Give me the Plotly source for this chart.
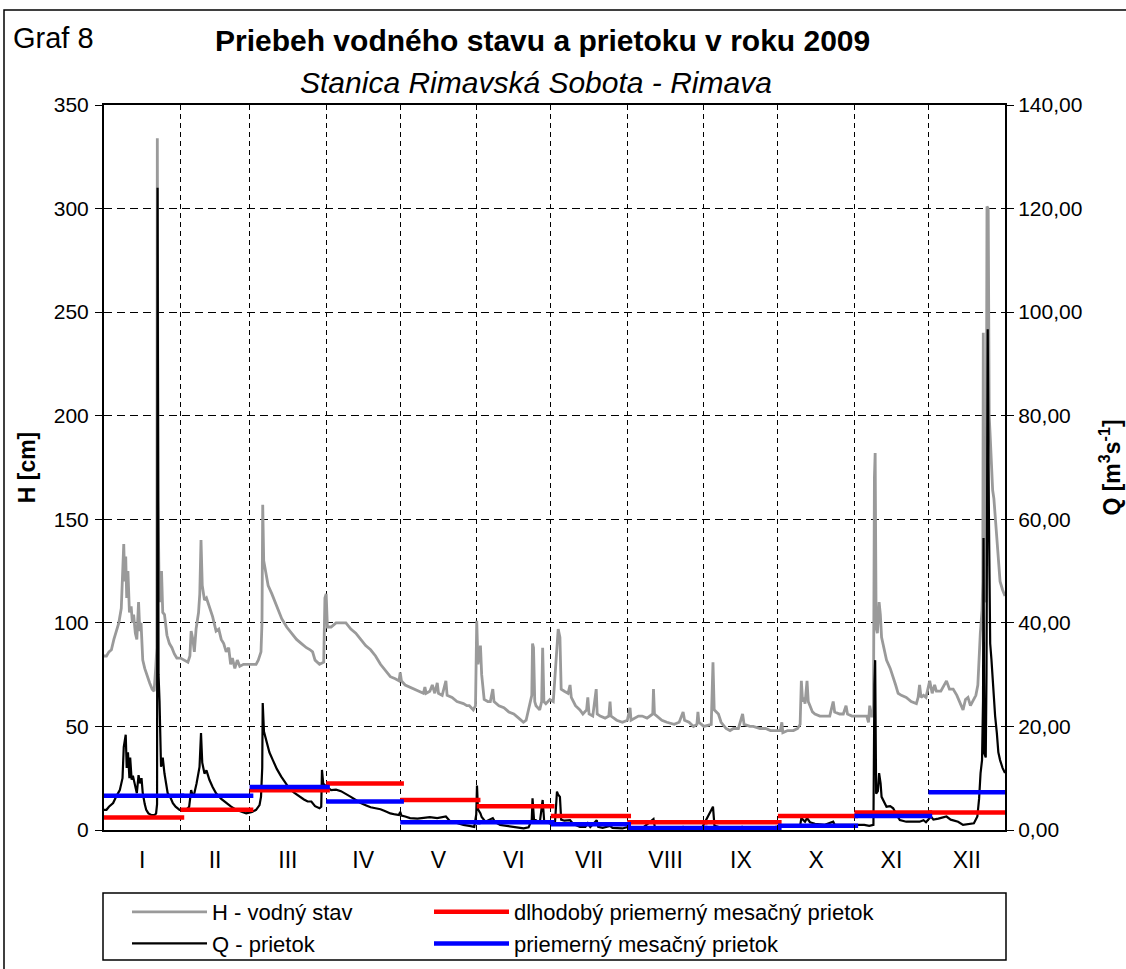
import plotly.graph_objects as go

# ---------------- data ----------------
month_labels = ["I", "II", "III", "IV", "V", "VI", "VII", "VIII", "IX", "X", "XI", "XII"]
month_days = [31, 28, 31, 30, 31, 30, 31, 31, 30, 31, 30, 31]

# long-term mean monthly discharge (red) and 2009 mean monthly discharge (blue), m3/s
q_longterm = [2.4, 3.9, 7.7, 9.0, 5.8, 4.6, 2.7, 1.5, 1.5, 2.7, 3.4, 3.4]
q_month2009 = [6.6, 6.6, 8.3, 5.5, 1.5, 1.5, 1.1, 0.4, 0.4, 0.8, 2.7, 7.3]

# water level H [cm] (day of year, value)
h_day = [0, 1, 2, 3, 4, 5, 6, 7, 7.6, 8, 8.4, 8.8, 9.2, 9.7, 10.3, 11, 11.5, 12, 12.7, 13.3,
         14, 14.5, 15, 15.7, 16.5, 17.5, 18.5, 19.5, 20.3, 21, 21.4, 21.6, 21.9, 22.3, 22.8,
         23.3, 23.8, 24.5, 25.5, 26.5, 27.5, 28.5, 29.5, 31, 32.5, 34, 34.8, 35.3, 36, 36.6,
         37.3, 38.3, 38.8, 39.3, 39.8, 40.7, 41.5, 42.5, 44, 45.4, 46.5, 47.5, 48.5, 49.5,
         50.5, 51.3, 52, 53, 54, 55, 56.5, 58, 60, 61.6, 62.5, 63.6, 64, 64.3, 64.7, 65.5,
         66.5, 68, 70, 72, 74, 76, 78, 80, 82, 83.5, 84.5, 85.5, 87.3, 89, 89.5, 90, 90.5,
         92, 94, 96, 98, 100, 102, 104, 106, 108, 110, 112, 114, 116, 118, 119.5, 120, 120.5,
         122, 124, 126, 128, 129.4, 130, 130.5, 132, 133, 134, 135, 135.5, 137, 138.5, 139,
         141, 143, 145.6, 147, 148, 149.6, 150.5, 151, 151.5, 152, 152.5, 153, 154, 155.5,
         156.5, 157.5, 158, 160, 162, 164, 166, 168, 169.9, 171, 172, 173.3, 173.6, 174,
         174.5, 175, 176.5, 177.3, 177.7, 178.2, 179, 180.6, 182, 183.5, 184, 184.7, 185.2,
         186.5, 188, 188.8, 189.3, 191, 192.8, 194, 195.5, 196, 196.5, 198, 199.4, 199.8,
         201, 203, 204.5, 205, 205.4, 207.7, 210, 212, 213.1, 213.5, 216.5, 218, 220, 222.3,
         222.6, 223, 224, 226, 228, 231, 233, 234.6, 235.2, 237, 238.8, 240.2, 240.6, 241,
         243, 246, 246.7, 247.2, 248.9, 250, 252, 253.6, 255, 257, 258.7, 259.3, 261.7, 263,
         265.8, 268, 270, 272.2, 274, 274.6, 275, 277, 279.3, 281, 282, 282.5, 283, 283.5,
         284, 284.8, 285.3, 286, 287, 288, 290, 292.7, 294, 295.4, 296, 298, 299.5, 300.6,
         301.2, 303, 305, 307.6, 309, 309.7, 310.2, 311, 311.7, 312.1, 312.4, 312.8, 313.3,
         314, 314.5, 315, 316, 317, 318.5, 319.7, 320.7, 321.7, 323, 325, 327, 329.1, 329.8,
         330.4, 331, 332, 333, 334.5, 335.5, 336.5, 337.2, 339, 340.5, 341.3, 342.5, 344,
         345.5, 347, 348, 349, 350, 351, 352.4, 353.2, 354, 354.4, 355, 355.7, 356, 356.2,
         356.5, 357.3, 357.7, 358.2, 358.6, 359, 359.5, 360, 360.5, 361, 361.7, 362.3, 363,
         364, 365]
h_cm = [84, 84, 86, 87, 92, 96, 100, 107, 130, 138, 120, 132, 112, 125, 105, 108, 100, 104, 95, 92,
        110, 96, 100, 82, 78, 74, 71, 68, 67, 79, 88, 334, 159, 120, 110,
        125, 105, 104, 94, 90, 88, 85, 83, 83, 82, 81, 84, 96, 92, 86,
        97, 105, 114, 140, 118, 111, 112, 108, 103, 96, 97, 92, 90, 86,
        88, 80, 83, 78, 82, 79, 80, 80, 80, 80, 82, 86, 100, 157, 130, 125,
        118, 114, 108, 102, 98, 95, 92, 90, 88, 87, 86, 82, 80, 81, 112, 114, 98,
        98, 100, 100, 100, 97, 95, 92, 89, 87, 84, 80, 77, 74, 73, 72, 76, 72,
        70, 69, 68, 67, 66, 69, 66, 67, 70, 66, 71, 66, 65, 72, 65,
        64, 62, 61, 60, 60, 58, 60, 101, 80, 84, 89, 75, 63, 62,
        62, 68, 62, 60, 59, 57, 56, 54, 52, 53, 58, 65, 90, 88,
        62, 60, 58, 62, 88, 62, 61, 63, 62, 92, 97, 93, 68,
        67, 66, 70, 64, 60, 58, 56, 58, 64, 56, 55, 68, 56,
        55, 54, 55, 62, 55, 53, 52, 53, 59, 53, 55, 55, 54, 56,
        68, 56, 55, 53, 52, 51, 52, 57, 53, 52, 50, 51, 57, 52,
        50, 51, 81, 58, 56, 52, 49, 48, 49, 49, 56, 51, 50, 50,
        49, 49, 48, 48, 48, 52, 47, 48, 48, 49, 51, 72, 62, 64,
        61, 72, 62, 60, 57, 56, 55, 55, 55, 62, 57, 56, 56, 60,
        56, 55, 55, 55, 55, 52, 60, 55, 55, 170, 182, 98, 95,
        110, 104, 93, 88, 82, 78, 74, 70, 66, 65, 64, 62, 61, 64,
        70, 64, 65, 64, 72, 66, 70, 67, 67, 70, 72, 68, 68,
        65, 61, 58, 63, 64, 60, 63, 65, 70, 82, 95, 106, 120, 240,
        115, 110, 301, 300, 200, 190, 175, 164, 160, 151, 140, 128, 120,
        116, 113]

# discharge Q [m3/s] (day of year, value)
q_day = [0, 1, 2, 3.7, 5, 6.4, 7.5, 8, 8.8, 9.2, 9.7, 10.3, 10.6, 11.2, 11.7, 12.5, 13.3, 14,
         14.6, 15.2, 15.7, 16.5, 17.1, 18, 19.1, 20.5, 21.1, 21.5, 21.7, 22.1, 22.5, 23.1,
         23.8, 24.5, 25.8, 26.8, 27.9, 29, 30.6, 33.3, 34.5, 35.3, 36, 36.6, 37.5, 38.7, 39.3,
         39.8, 40.7, 41.5, 42.7, 44, 45.4, 47.5, 49.5, 51.5, 53.5, 55.5, 57.6, 60, 61.6, 63,
         63.6, 64.1, 64.3, 64.8, 65.7, 67, 68.4, 70, 71.8, 73.5, 75.1, 77, 79.2, 81, 82.5, 84,
         85.5, 87.3, 88, 88.3, 88.8, 90, 92, 94, 96, 98, 100, 102, 104, 106, 108, 110, 112,
         114, 116, 118, 119.5, 120, 120.5, 122, 124, 127, 130, 132, 135, 138.5, 140, 142,
         145.6, 148, 150, 150.8, 151.1, 151.5, 152.5, 153, 154.5, 157.5, 158.5, 160.5, 163,
         166, 170, 172, 173.3, 173.6, 174.2, 175, 176.5, 177.7, 178.3, 179, 181, 182.7, 183.5,
         184, 184.7, 185.2, 186.5, 188.8, 190, 192.8, 195, 196, 197, 199.6, 200.2, 202, 205,
         206, 207.7, 210, 213, 214, 218, 222.6, 223.2, 226, 230, 234.7, 236, 240.7, 242,
         246.7, 247.3, 248.9, 252, 258.7, 260, 265, 270, 272.2, 275, 279, 282, 282.5, 284,
         284.8, 286, 288, 292, 295.4, 296, 301, 304, 308, 310, 311.7, 312.1, 312.4, 312.8,
         313.5, 314, 314.6, 315, 316, 317, 318.5, 319.7, 321, 322.4, 325, 328, 330.4, 332,
         333, 335, 336, 338, 341.3, 343, 344, 346, 348, 350, 352.4, 353.8, 354.5, 355.1,
         355.7, 356.1, 356.3, 356.6, 357.2, 357.5, 358, 358.5, 359, 359.5, 360.3, 361, 361.7,
         362.3, 363, 364, 365]
q_m3s = [3.9, 3.9, 4.5, 5.2, 6.5, 7.7, 10, 16, 18.4, 12, 15, 10, 14, 9.7, 10.5, 8.5, 7.1, 10.6,
         9, 10, 7.1, 5, 3.9, 3.2, 2.9, 2.9, 3.2, 5, 124, 30, 24.8, 12.2,
         14, 10.9, 7.1, 6.4, 5.2, 4.5, 3.9, 3.9, 4.5, 7.7, 6.5, 7.1, 9, 12.2, 18.7,
         13, 10.9, 11.5, 9.7, 8.3, 7.1, 6, 5.2, 4.5, 3.9, 3.5, 3.2, 3.5, 3.9, 4.8,
         6.4, 12, 24.5, 19, 17.4, 15, 13.5, 11.8, 10.3, 9, 8, 7.2, 6.4, 5.9, 5.5, 5.5,
         4.6, 4.2, 4.5, 11.6, 9, 8.4, 7.7, 7.8, 7.5, 7, 6.4, 5.8, 5.2, 4.8, 4.4, 4.2, 4,
         3.6, 3.2, 3, 2.9, 3.5, 2.8, 2.6, 2.3, 2.2, 2.3, 2.5, 2.3, 2.6, 1.8, 1.5,
         1, 0.8, 0.6, 3, 8.6, 4, 3.2, 2.5, 1.6, 2.3, 1.5, 1, 0.8,
         0.6, 0.3, 0.5, 2, 6.1, 2, 1.9, 1.3, 5.8, 1.8, 1.6, 1.2, 1.5, 7.4,
         6.8, 6.4, 2, 1.8, 1.9, 1.2, 0.6, 0.6, 1.3, 0.6, 1.9, 0.6, 0.4, 0.8,
         0.4, 0.3, 0.3, 0.7, 0.3, 0.3, 2.1, 0.4, 0.3, 0.3, 0.6, 0.2, 0.5, 0.2,
         4.5, 0.8, 0.6, 0.3, 0.6, 0.2, 0.2, 0.3, 0.6, 0.6, 0.6, 0.8, 2.3, 1.6,
         2.3, 1.5, 1.2, 1, 1.6, 1, 1, 1, 1, 0.8, 1, 28, 32.8, 7,
         7.5, 11, 9, 6.4, 5.5, 4.5, 4.6, 4.2, 3, 1.9, 1.6, 1.6, 1.6, 1.9,
         1.5, 2.6, 2, 2.2, 2.6, 2, 1.9, 1.6, 1, 1.2, 1.3, 2.6, 6, 11,
         13.5, 25, 56.4, 14.8, 14, 30, 96.7, 60, 36, 33, 26.4, 22, 18.7,
         15, 13.5, 12, 11]

# ---------------- derived helpers ----------------
month_start = [sum(month_days[:i]) for i in range(12)]
year_len = sum(month_days)
month_mid = [s + n / 2 for s, n in zip(month_start, month_days)]
month_bounds = month_start[1:]


def month_segments(values):
    xs, ys = [], []
    for s, n, v in zip(month_start, month_days, values):
        xs += [s, min(s + n + 1.5, year_len), None]
        ys += [v, v, None]
    return xs, ys


FONT = "Liberation Sans, Arial, Helvetica, sans-serif"

fig = go.Figure()

fig.add_trace(go.Scatter(x=h_day, y=h_cm, mode="lines", name="H - vodný stav",
                         line=dict(color="#9a9a9a", width=2.8), legend="legend", yaxis="y"))
fig.add_trace(go.Scatter(x=q_day, y=q_m3s, mode="lines", name="Q - prietok",
                         line=dict(color="black", width=2.2), legend="legend", yaxis="y2"))
lx, ly = month_segments(q_longterm)
fig.add_trace(go.Scatter(x=lx, y=ly, mode="lines", name="dlhodobý priemerný mesačný prietok",
                         line=dict(color="#ff0000", width=4.5), legend="legend2", yaxis="y2"))
mx, my = month_segments(q_month2009)
fig.add_trace(go.Scatter(x=mx, y=my, mode="lines", name="priemerný mesačný prietok",
                         line=dict(color="#0000ff", width=4.5), legend="legend2", yaxis="y2"))

W, H = 1126, 969
ML, MR, MT, MB = 104, 121, 105, 139
PW, PH = W - ML - MR, H - MT - MB


def px_x(px):
    return (px - ML) / PW


def px_y(py):
    return (H - MB - py) / PH


legend_common = dict(orientation="v", xanchor="left", yanchor="top", y=px_y(891),
                     font=dict(size=22, family=FONT, color="black"),
                     bgcolor="rgba(0,0,0,0)", borderwidth=0, itemwidth=75,
                     traceorder="normal")

fig.update_layout(
    width=W, height=H,
    margin=dict(l=ML, r=MR, t=MT, b=MB, autoexpand=False),
    paper_bgcolor="white", plot_bgcolor="white",
    separators=", ",
    font=dict(family=FONT, color="black", size=20),
    showlegend=True,
    legend=dict(x=px_x(127), **legend_common),
    legend2=dict(x=px_x(429), **legend_common),
    xaxis=dict(range=[0, year_len], tickmode="array", tickvals=month_mid, ticktext=month_labels,
               ticks="", showgrid=False, zeroline=False, showline=True, mirror=True,
               linecolor="black", linewidth=2, tickfont=dict(size=23), ticklabelstandoff=8,
               automargin=False,
               minor=dict(tickmode="array", tickvals=month_bounds, showgrid=True,
                          gridcolor="black", griddash="5px,4px", gridwidth=1,
                          ticks="inside", ticklen=5, tickcolor="black")),
    yaxis=dict(range=[0, 350], dtick=50, tick0=0, showgrid=True, gridcolor="black",
               griddash="8px,5px", gridwidth=1, zeroline=False, showline=True,
               linecolor="black", linewidth=2, ticks="outside", ticklen=7, tickcolor="black",
               tickfont=dict(size=21), ticklabelstandoff=2, automargin=False,
               title=dict(text="<b>H [cm]</b>", font=dict(size=23), standoff=12)),
    yaxis2=dict(range=[0, 140], dtick=20, tick0=0, tickformat=".2f", overlaying="y",
                side="right", showgrid=False, zeroline=False, showline=True,
                linecolor="black", linewidth=2, ticks="outside", ticklen=7, tickcolor="black",
                tickfont=dict(size=21), automargin=False,
                title=dict(text="<b>Q [m<sup>3</sup>s<sup>-1</sup>]</b>", font=dict(size=23),
                           standoff=22)),
    annotations=[
        dict(text="Graf 8", xref="paper", yref="paper", x=px_x(11), y=px_y(38),
             xanchor="left", yanchor="middle", showarrow=False, font=dict(size=29)),
        dict(text="<b>Priebeh vodného stavu a prietoku v roku 2009</b>", xref="paper",
             yref="paper", x=px_x(542), y=px_y(40), xanchor="center", yanchor="middle",
             showarrow=False, font=dict(size=30)),
        dict(text="<i>Stanica Rimavská Sobota - Rimava</i>", xref="paper", yref="paper",
             x=px_x(536), y=px_y(82), xanchor="center", yanchor="middle", showarrow=False,
             font=dict(size=30)),
    ],
    shapes=[
        # chart area frame (left / top edges visible)
        dict(type="rect", xref="paper", yref="paper", x0=px_x(4), x1=px_x(1140),
             y0=px_y(985), y1=px_y(10), line=dict(color="black", width=1.5), layer="below"),
        # legend frame
        dict(type="rect", xref="paper", yref="paper", x0=px_x(103), x1=px_x(1006),
             y0=px_y(960), y1=px_y(893), line=dict(color="black", width=1.5)),
    ],
)

# the page body has a default 8px margin; remove it so the figure fills the window
fig.write_html("out.html", config={"displayModeBar": False},
               post_script="document.body.style.margin='0';")
